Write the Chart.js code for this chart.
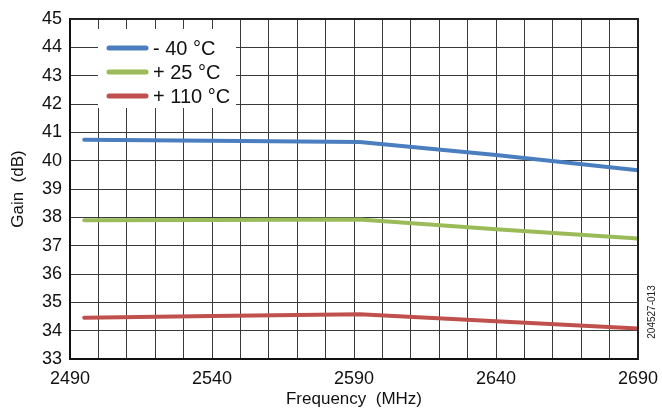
<!DOCTYPE html>
<html>
<head>
<meta charset="utf-8">
<script src="https://cdn.jsdelivr.net/npm/chart.js@4/dist/chart.umd.min.js"></script>
<style>
  html, body { margin: 0; padding: 0; background: #fff; }
  #wrap { position: relative; width: 662px; height: 410px; }
</style>
</head>
<body>
<div id="wrap"><canvas id="gainChart"></canvas></div>
<script>
// values
const freqs = [2495, 2540, 2592, 2640, 2690];
const gainM40 = [40.74, 40.7, 40.66, 40.2, 39.66];
const gainP25 = [37.9, 37.91, 37.92, 37.58, 37.25];
const gainP110 = [34.46, 34.52, 34.58, 34.33, 34.08];
const seriesLabels = ["- 40 °C", "+ 25 °C", "+ 110 °C"];
const xLabelTicks = [2490, 2540, 2590, 2640, 2690];

const font = "'Liberation Sans', Arial, sans-serif";
const colors = ["#4a7ebf", "#9bbb59", "#c0504d"];

function toPoints(ys) {
  return freqs.map((f, i) => ({ x: f, y: ys[i] }));
}

// legend sits inside the plot on a white box
const insideLegend = {
  id: "insideLegend",
  afterDatasetsDraw(chart) {
    const ctx = chart.ctx;
    ctx.save();
    ctx.fillStyle = "#fff";
    ctx.fillRect(98, 29, 138, 79);
    chart.data.datasets.forEach((ds, i) => {
      const y = 48 + i * 24;
      ctx.strokeStyle = ds.borderColor;
      ctx.lineWidth = 5;
      ctx.lineCap = "round";
      ctx.beginPath();
      ctx.moveTo(109, y);
      ctx.lineTo(146, y);
      ctx.stroke();
      ctx.fillStyle = "#111";
      ctx.font = "20px " + font;
      ctx.textBaseline = "middle";
      ctx.fillText(ds.label, 153, y + 1);
    });
    // figure number on the right
    ctx.translate(652, 312);
    ctx.rotate(-Math.PI / 2);
    ctx.font = "10px " + font;
    ctx.fillStyle = "#222";
    ctx.textAlign = "center";
    ctx.textBaseline = "middle";
    ctx.fillText("204527-013", 0, 0);
    ctx.restore();
  },
};

const chart = new Chart(document.getElementById("gainChart"), {
  type: "scatter",
  data: {
    datasets: [gainM40, gainP25, gainP110].map((ys, i) => ({
      label: seriesLabels[i],
      data: toPoints(ys),
      showLine: true,
      borderColor: colors[i],
      backgroundColor: colors[i],
      borderWidth: 4,
      borderCapStyle: "round",
      pointRadius: 0,
      tension: 0,
    })),
  },
  options: {
    responsive: true,
    maintainAspectRatio: false,
    animation: false,
    layout: { padding: { left: 0, right: 24, top: 19, bottom: 0 } },
    scales: {
      x: {
        type: "linear",
        min: 2490,
        max: 2690,
        afterFit: (scale) => {
          scale.height = 51;
          scale.paddingLeft = 0;
          scale.paddingRight = 0;
        },
        ticks: {
          stepSize: 10,
          autoSkip: false,
          maxRotation: 0,
          padding: 9,
          color: "#111",
          font: { family: font, size: 18 },
          callback: (v) => (xLabelTicks.includes(v) ? v : ""),
        },
        grid: { color: "#3a3a3a", lineWidth: 1, drawTicks: false },
        border: { color: "#111", width: 2 },
        title: {
          display: true,
          text: "Frequency  (MHz)",
          color: "#111",
          font: { family: font, size: 17 },
          padding: { top: 0, bottom: 0 },
        },
      },
      y: {
        min: 33,
        max: 45,
        afterFit: (scale) => {
          scale.width = 70;
          scale.paddingTop = 0;
          scale.paddingBottom = 0;
        },
        ticks: {
          stepSize: 1,
          padding: 8,
          color: "#111",
          font: { family: font, size: 18 },
        },
        grid: { color: "#3a3a3a", lineWidth: 1, drawTicks: false },
        border: { color: "#111", width: 2 },
        title: {
          display: true,
          text: "Gain  (dB)",
          color: "#111",
          font: { family: font, size: 17 },
          padding: { top: 8, bottom: 0 },
        },
      },
    },
    plugins: {
      legend: { display: false },
      tooltip: { enabled: false },
    },
  },
  plugins: [
    insideLegend,
    {
      id: "frame",
      afterDraw(chart) {
        const a = chart.chartArea;
        const ctx = chart.ctx;
        ctx.save();
        ctx.strokeStyle = "#222";
        ctx.lineWidth = 2;
        ctx.beginPath();
        ctx.moveTo(a.left, a.top);
        ctx.lineTo(a.right, a.top);
        ctx.lineTo(a.right, a.bottom);
        ctx.stroke();
        ctx.restore();
      },
    },
  ],
});
</script>
</body>
</html>
